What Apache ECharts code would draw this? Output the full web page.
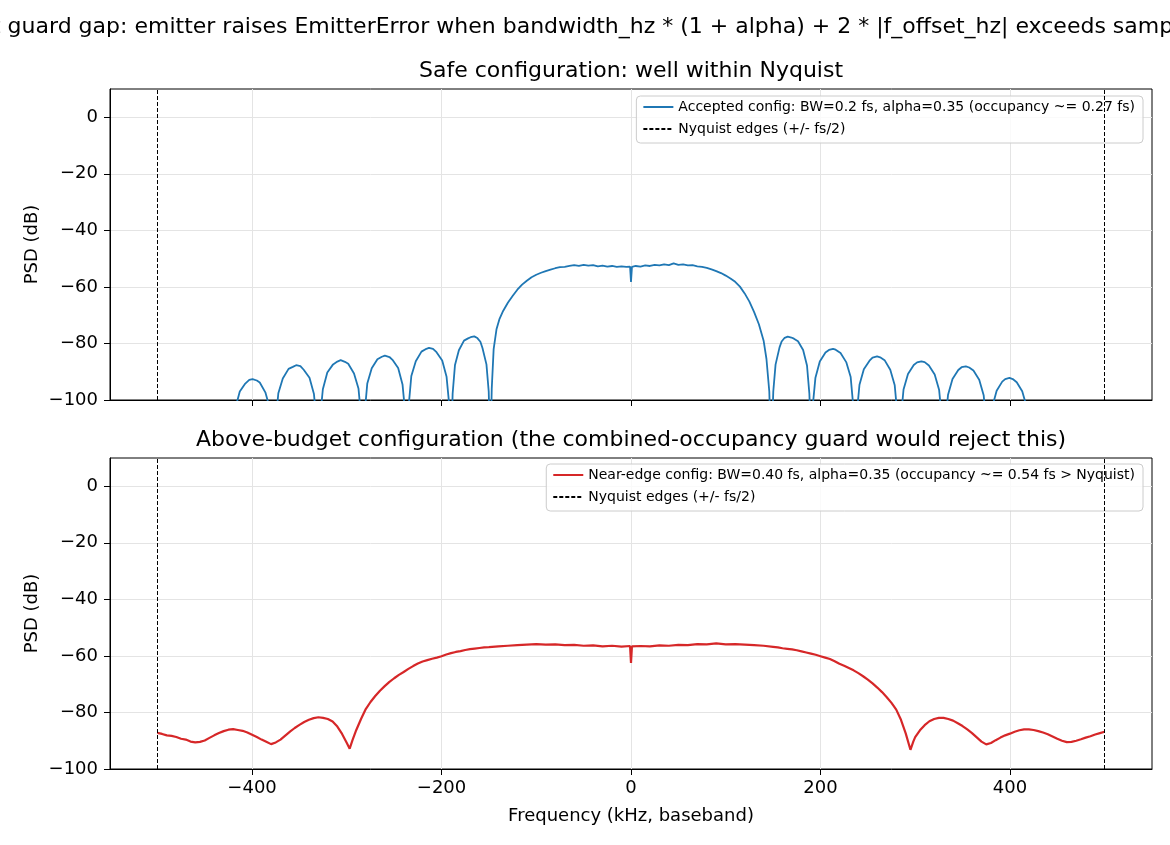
<!DOCTYPE html>
<html>
<head>
<meta charset="utf-8">
<script src="https://cdn.jsdelivr.net/npm/echarts@6/dist/echarts.min.js"></script>
<style>
html, body { margin: 0; padding: 0; background: #fff; }
#main { width: 1170px; height: 845px; }
</style>
</head>
<body>
<div id="main"></div>
<script>
// tick positions
var xTicks = [-400, -200, 0, 200, 400];
var yTicks = [-100, -80, -60, -40, -20, 0];
var nyquistEdges = [-500, 500];

// safe config PSD (kHz, dB)
var safeFreq = [-422, -420.2, -417.5, -413, -407.2, -403, -399.5, -395, -391.9, -386, -381.5, -378.8,
  -377, -375.1, -372.3, -367.6, -361.5, -357, -353.5, -349, -345.5, -339.4, -334.7, -331.9,
  -330, -328.1, -325.3, -320.6, -314.5, -310, -306.5, -302, -298.5, -292.4, -287.7, -284.9,
  -283, -281.1, -278.4, -273.7, -267.7, -263, -259.8, -255, -251.8, -245.8, -241.2, -238.4,
  -236.5, -234.6, -231.9, -227.2, -221.2, -216, -213.3, -209, -205.3, -199.3, -194.7, -191.9,
  -190, -188.3, -185.8, -181.7, -176.3, -172, -169.3, -165.5, -162.2, -159, -156.8, -152.6, -150.2,
  -148.5, -147, -145, -142, -139, -135, -130, -125, -120, -115, -110, -105, -100, -95, -90, -85,
  -80, -75, -70, -65, -60, -55, -50, -45, -40, -35, -30, -25, -20, -15, -10, -5, -1, 0, 1,
  5, 10, 15, 20, 25, 30, 35, 40, 45, 50, 55, 60, 65, 70, 75, 80, 85, 90, 95, 100, 105, 110,
  115, 120, 125, 130, 135, 140, 143, 146, 148,
  150.2, 152.6, 156.8, 159, 162.2, 165.5, 169.3, 172, 176.3, 181.7, 185.8, 188.3,
  190.5, 191.9, 194.7, 199.3, 205.3, 209, 213.3, 216, 221.2, 227.2, 231.9, 234.6,
  236, 238.4, 241.2, 245.8, 251.8, 255, 259.8, 263, 267.7, 273.7, 278.4, 281.1,
  282.5, 284.9, 287.7, 292.4, 298.5, 302, 306.5, 310, 314.5, 320.6, 325.3, 328.1,
  329.8, 331.9, 334.7, 339.4, 345.5, 349, 353.5, 357, 361.5, 367.6, 372.3, 375.1,
  377, 378.8, 381.5, 386, 391.9, 395, 399.5, 403, 407.2, 413, 417.5, 420.2, 422];
var safePsd = [-125, -112.7, -102.7, -97.0, -94.2, -92.9, -92.6, -93.1, -93.8, -97.3, -102.6, -112.7,
  -120, -107.8, -97.6, -92.4, -89.0, -88.3, -87.7, -88.0, -89.3, -92.1, -97.9, -107.8,
  -119, -106, -96.2, -90.3, -87.4, -86.4, -85.9, -86.5, -87.2, -90.6, -95.9, -106,
  -119, -104.4, -94.2, -88.8, -85.6, -84.7, -84.3, -84.8, -85.8, -88.7, -94.5, -104.4,
  -119, -101.7, -91.5, -86.3, -82.9, -81.9, -81.6, -81.9, -83.1, -86.0, -91.8, -101.7,
  -119, -97.8, -87.6, -82.4, -79.0, -78.2, -77.8, -77.5, -78.1, -79.4, -81.6, -87.4, -97,
  -120, -96, -82, -75, -71.5, -68.5, -65.6, -63.2, -61.0, -59.2, -57.8, -56.6, -55.7, -55.0, -54.4, -53.9,
  -53.4, -53.0, -52.9, -52.6, -52.3, -52.6, -52.2, -52.5, -52.3, -52.7, -52.5, -52.8, -52.6, -52.9, -52.7, -52.9, -52.8, -58.2, -52.9,
  -52.6, -52.8, -52.4, -52.6, -52.2, -52.4, -52.0, -52.3, -51.7, -52.2, -52.0, -52.4, -52.3, -52.7, -52.9, -53.3, -53.8, -54.4, -55.1, -56.0, -57.0, -58.2,
  -59.9, -62.3, -65.2, -68.9, -73.2, -79.0, -85.5, -97, -120,
  -97, -87.5, -81.4, -79.3, -78.0, -77.6, -77.9, -78.3, -79.2, -82.3, -87.8, -97.8,
  -119, -102, -92.1, -86.4, -83.2, -82.3, -81.9, -82.2, -83.4, -86.6, -91.9, -102,
  -119, -104.7, -94.6, -89.1, -86.1, -85.0, -84.6, -84.9, -85.9, -89.3, -94.8, -104.7,
  -119, -106.4, -96.3, -90.8, -87.6, -86.7, -86.3, -86.6, -87.8, -91.0, -96.5, -106.4,
  -119, -108.2, -98.1, -92.6, -89.4, -88.4, -88.1, -88.5, -89.6, -92.8, -98.3, -108.2,
  -120, -112.3, -102.3, -96.7, -93.5, -92.6, -92.2, -92.6, -93.7, -96.9, -102.2, -112.3, -125];

// near-edge config PSD (kHz, dB)
var edgeFreq = [-500, -495, -490, -485, -480, -475, -470, -465, -460, -455, -450, -445, -440, -435, -430,
  -425, -420, -415, -410, -405, -400, -395, -390, -385, -380, -375, -370, -365, -360, -355, -350,
  -345, -340, -335, -330, -325, -320, -315, -310, -305, -300, -297, -294, -290, -285, -280, -275,
  -270, -265, -260, -255, -250, -245, -240, -235, -230, -225, -220, -215, -210, -205, -200, -195,
  -190, -185, -180, -175, -170, -165, -160, -155, -150, -140, -130, -120, -110, -100, -90, -80,
  -70, -60, -50, -40, -30, -20, -10, -1, 0, 1, 10, 20, 30, 40, 50, 60, 70, 80, 90, 100, 110,
  120, 130, 140, 150, 155, 160, 165, 170, 175, 180, 185, 190, 195, 200, 205, 210, 215, 220, 225,
  230, 235, 240, 245, 250, 255, 260, 265, 270, 275, 280, 285, 290, 295, 298, 300, 305, 310, 315,
  320, 325, 330, 335, 340, 345, 350, 355, 360, 365, 370, 375, 380, 385, 390, 395, 400, 405, 410,
  415, 420, 425, 430, 435, 440, 445, 450, 455, 460, 465, 470, 475, 480, 485, 490, 495, 500];
var edgePsd = [-87.2, -87.6, -88.1, -88.3, -88.7, -89.3, -89.6, -90.3, -90.6, -90.4, -89.9, -89.0, -88.1, -87.3, -86.6,
  -86.1, -85.9, -86.2, -86.5, -87.1, -87.9, -88.7, -89.6, -90.4, -91.2, -90.6, -89.6, -88.2, -86.8, -85.5, -84.4,
  -83.4, -82.6, -82.0, -81.7, -81.9, -82.3, -83.2, -85.0, -87.6, -90.8, -92.8, -89.8, -86.2, -82.3, -78.8, -76.3,
  -74.2, -72.3, -70.7, -69.2, -67.9, -66.7, -65.7, -64.6, -63.6, -62.7, -62.0, -61.5, -61.0, -60.6, -60.1, -59.5,
  -59.0, -58.6, -58.3, -57.9, -57.6, -57.4, -57.2, -57.0, -56.9, -56.6, -56.4, -56.2, -56.0, -55.8, -56.0, -55.9,
  -56.2, -56.1, -56.4, -56.3, -56.6, -56.4, -56.7, -56.5, -62.5, -56.6, -56.5, -56.6, -56.3, -56.4, -56.1, -56.2, -55.8, -55.9, -55.6, -55.9, -55.8,
  -56.0, -56.2, -56.4, -56.8, -57.0, -57.3, -57.5, -57.7, -58.0, -58.4, -58.8, -59.2, -59.6, -60.1, -60.6, -61.1, -61.9, -62.8, -63.5,
  -64.3, -65.1, -66.1, -67.2, -68.4, -69.7, -71.2, -72.8, -74.6, -76.6, -79.0, -82.6, -87.4, -93.2, -90.3, -88.7, -86.3, -84.5, -83.1,
  -82.3, -81.9, -81.9, -82.3, -82.9, -83.8, -84.8, -86.0, -87.3, -88.8, -90.3, -91.3, -90.8, -89.8, -88.9, -88.1, -87.5, -86.8, -86.3,
  -86.0, -86.0, -86.2, -86.6, -87.1, -87.7, -88.5, -89.3, -90.0, -90.5, -90.4, -90.0, -89.5, -88.9, -88.4, -87.8, -87.3, -86.8];

var FONT = 'DejaVu Sans';
var safeName = 'Accepted config: BW=0.2 fs, alpha=0.35 (occupancy ~= 0.27 fs)';
var edgeName = 'Near-edge config: BW=0.40 fs, alpha=0.35 (occupancy ~= 0.54 fs > Nyquist)';
var nyqName = 'Nyquist edges (+/- fs/2)';

function zip(xs, ys) {
    var out = [];
    for (var i = 0; i < xs.length; i++) out.push([xs[i], ys[i]]);
    return out;
}

function minusFmt(v) {
    return v < 0 ? '\u2212' + (-v) : String(v);
}

function makeX(idx, showLabels) {
    return {
        type: 'value', gridIndex: idx, min: -550, max: 550,
        name: showLabels ? 'Frequency (kHz, baseband)' : '',
        nameLocation: 'middle', nameGap: 38,
        nameTextStyle: { fontFamily: FONT, fontSize: 18, color: '#000' },
        axisLine: { show: true, onZero: false, lineStyle: { color: '#000', width: 1 } },
        axisTick: { show: true, customValues: xTicks, length: 6, lineStyle: { color: '#000' } },
        axisLabel: { show: showLabels, customValues: xTicks, margin: 10, formatter: minusFmt,
                     fontFamily: FONT, fontSize: 18, color: '#000' },
        splitLine: { show: true, lineStyle: { color: '#e4e4e4', width: 1 } }
    };
}

function makeY(idx) {
    return {
        type: 'value', gridIndex: idx, min: -100, max: 10,
        name: 'PSD (dB)', nameLocation: 'middle', nameGap: 69, nameMoveOverlap: false,
        nameTextStyle: { fontFamily: FONT, fontSize: 18, color: '#000' },
        axisLine: { show: true, onZero: false, lineStyle: { color: '#000', width: 1 } },
        axisTick: { show: true, customValues: yTicks, length: 6, lineStyle: { color: '#000' } },
        axisLabel: { customValues: yTicks, margin: 12, formatter: minusFmt,
                     fontFamily: FONT, fontSize: 18, color: '#000' },
        splitLine: { show: true, lineStyle: { color: '#e4e4e4', width: 1 } }
    };
}

function nyquistSeries(idx) {
    return {
        name: nyqName, type: 'line', xAxisIndex: idx, yAxisIndex: idx,
        data: [], symbol: 'none',
        itemStyle: { color: '#000' },
        lineStyle: { color: '#000', width: 1, type: [4, 2] },
        markLine: {
            silent: true, symbol: ['none', 'none'], label: { show: false },
            lineStyle: { color: '#000', width: 1, type: [4, 2] },
            data: nyquistEdges.map(function (v) { return { xAxis: v }; })
        }
    };
}

function makeLegend(top, names) {
    return {
        orient: 'vertical', right: 27, top: top, selectedMode: false,
        data: names, itemWidth: 30, itemHeight: 14, itemGap: 8,
        padding: [4, 8, 7, 6],
        itemStyle: { color: 'rgba(0,0,0,0)', borderWidth: 0 },
        backgroundColor: 'rgba(255,255,255,0.8)',
        borderColor: '#cccccc', borderWidth: 1, borderRadius: 4,
        textStyle: { fontFamily: FONT, fontSize: 14, color: '#000' }
    };
}

var myChart = echarts.init(document.getElementById('main'), null, { renderer: 'canvas' });

var option = {
    animation: false,
    backgroundColor: '#fff',
    graphic: [
        { type: 'text', x: 585, y: 27, style: {
            text: 'Budget guard gap: emitter raises EmitterError when bandwidth_hz * (1 + alpha) + 2 * |f_offset_hz| exceeds sample_rate',
            font: '22px "DejaVu Sans"', fill: '#000', textAlign: 'center', textVerticalAlign: 'middle' } },
        { type: 'text', x: 631, y: 71, style: {
            text: 'Safe configuration: well within Nyquist',
            font: '22px "DejaVu Sans"', fill: '#000', textAlign: 'center', textVerticalAlign: 'middle' } },
        { type: 'text', x: 631, y: 440, style: {
            text: 'Above-budget configuration (the combined-occupancy guard would reject this)',
            font: '22px "DejaVu Sans"', fill: '#000', textAlign: 'center', textVerticalAlign: 'middle' } }
    ],
    legend: [
        makeLegend(96, [safeName, nyqName]),
        makeLegend(464, [edgeName, nyqName])
    ],
    grid: [
        { left: 110, right: 18, top: 89, height: 311, show: true, borderColor: '#000', borderWidth: 1 },
        { left: 110, right: 18, top: 458, height: 311, show: true, borderColor: '#000', borderWidth: 1 }
    ],
    xAxis: [makeX(0, false), makeX(1, true)],
    yAxis: [makeY(0), makeY(1)],
    series: [
        {
            name: safeName, type: 'line', xAxisIndex: 0, yAxisIndex: 0,
            data: zip(safeFreq, safePsd), symbol: 'none', clip: true,
            itemStyle: { color: '#1f77b4' },
            lineStyle: { color: '#1f77b4', width: 1.8 }
        },
        nyquistSeries(0),
        {
            name: edgeName, type: 'line', xAxisIndex: 1, yAxisIndex: 1,
            data: zip(edgeFreq, edgePsd), symbol: 'none', clip: true,
            itemStyle: { color: '#d62728' },
            lineStyle: { color: '#d62728', width: 2.2 }
        },
        nyquistSeries(1)
    ]
};

myChart.setOption(option);
</script>
</body>
</html>
